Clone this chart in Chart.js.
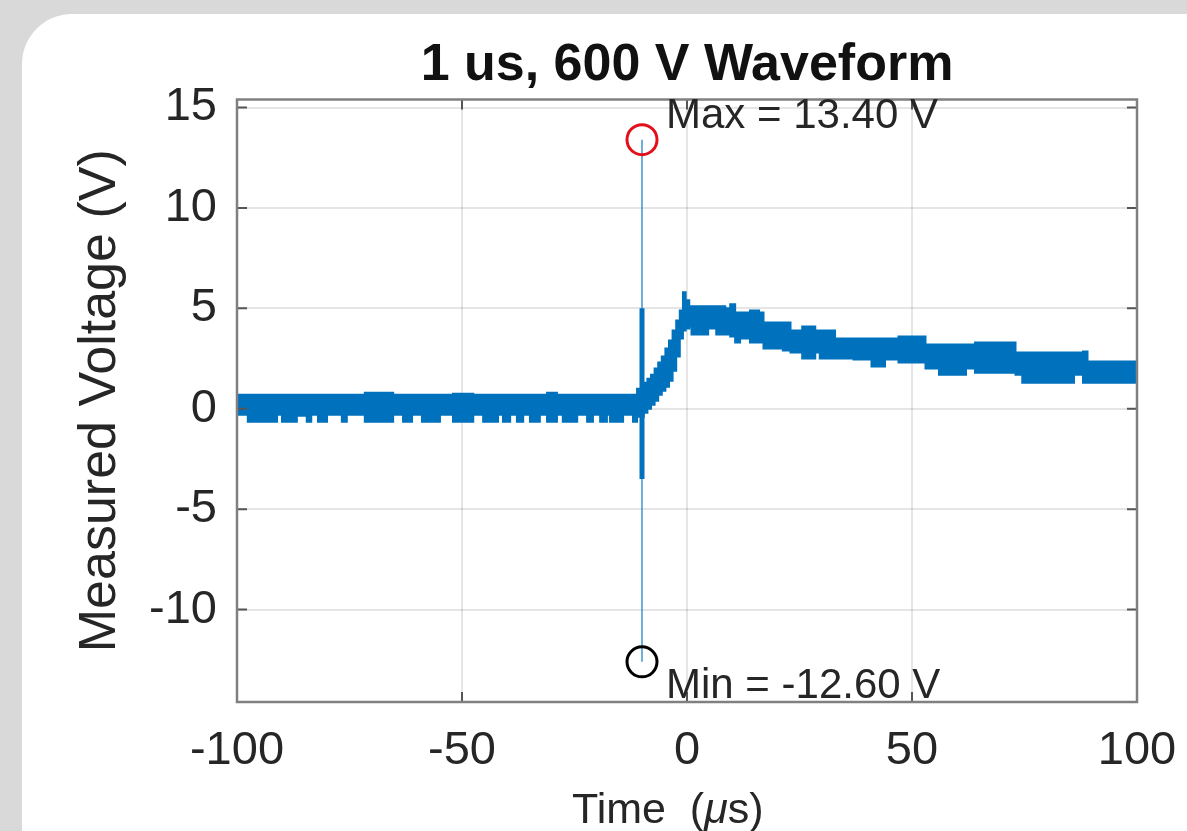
<!DOCTYPE html>
<html>
<head>
<meta charset="utf-8">
<script src="https://cdn.jsdelivr.net/npm/chart.js@4.4.1/dist/chart.umd.min.js"></script>
<style>
  html, body { margin: 0; padding: 0; background: #d9d9d9; overflow: hidden; }
  #card { position: absolute; left: 22px; top: 14px; width: 1230px; height: 900px; background: #fff; border-radius: 50px; }
  #wrap { position: absolute; left: 0; top: 0; width: 1187px; height: 831px; }
</style>
</head>
<body>
<div id="card"></div>
<div id="wrap"><canvas id="waveChart" width="1187" height="831"></canvas></div>
<script>
// waveform band (time in us, volts)
// each value holds from its time until the next one
const envTime = [-100, -97.6, -91.1, -90.0, -86.7, -84.5, -83.5, -82.0, -80.0, -76.7, -75.6, -71.6,
  -65.3, -63.1, -61.1, -58.9, -54.9, -52.0, -47.5, -45.3, -42.0, -40.9, -39.3, -37.8, -36.4, -34.9,
  -32.7, -31.1, -28.9, -27.6, -24.4, -22.2, -20.9, -19.3, -17.8, -17.1, -14.2, -12.0, -11.1,
  -9.6, -8.8, -8.0, -7.2, -6.4, -5.6, -4.8, -4.0, -3.2, -2.4, -1.6, -0.9, -0.3, 0.5, 1.0,
  4.7, 6.5, 8.5, 9.6, 10.7, 11.8, 14.0, 16.0, 17.0, 21.3, 23.0, 25.6, 28.5, 29.5, 32.9, 37.0,
  41.0, 44.0, 47.0, 53.0, 56.0, 62.0, 64.0, 73.0, 74.5, 86.0, 88.0, 89.0, 96.0, 100.0];
const envHigh = [0.7, 0.7, 0.7, 0.7, 0.7, 0.7, 0.7, 0.7, 0.7, 0.7, 0.7, 0.7,
  0.8, 0.7, 0.7, 0.7, 0.7, 0.7, 0.75, 0.7, 0.7, 0.7, 0.7, 0.7, 0.7, 0.7,
  0.7, 0.7, 0.8, 0.7, 0.7, 0.7, 0.7, 0.7, 0.7, 0.7, 0.7, 0.7, 0.7,
  1.0, 1.3, 1.5, 1.7, 2.0, 2.3, 2.6, 3.0, 3.4, 3.9, 4.4, 4.9, 5.8, 5.4, 5.1,
  5.1, 5.1, 5.1, 5.0, 5.2, 4.8, 4.8, 4.9, 4.8, 4.3, 4.3, 3.9, 4.1, 3.9, 3.9, 3.5,
  3.5, 3.5, 3.5, 3.6, 3.2, 3.2, 3.2, 3.3, 2.8, 2.8, 2.8, 2.85, 2.35, 2.35];
const envLow = [-0.65, -0.3, -0.65, -0.3, -0.65, -0.35, -0.65, -0.3, -0.65, -0.3, -0.65, -0.3,
  -0.65, -0.3, -0.65, -0.3, -0.65, -0.3, -0.65, -0.3, -0.65, -0.3, -0.65, -0.3, -0.65, -0.3,
  -0.65, -0.3, -0.65, -0.3, -0.65, -0.3, -0.65, -0.3, -0.65, -0.3, -0.65, -0.3, -0.65,
  -0.4, -0.2, 0.0, 0.2, 0.4, 0.7, 0.9, 1.1, 1.4, 1.9, 2.6, 3.5, 3.9, 4.0, 4.1,
  3.7, 4.0, 3.7, 3.7, 3.6, 3.3, 3.5, 3.3, 3.3, 3.0, 2.9, 2.8, 2.5, 2.8, 2.5, 2.5,
  2.45, 2.1, 2.45, 2.3, 2.0, 1.7, 2.0, 1.8, 1.7, 1.3, 1.7, 1.3, 1.3, 1.3];

// switching spike: dense core plus the single-sample extremes
const peakTime = -10.0;
const coreHigh = 5.0;
const coreLow = -3.5;
const maxVolt = 13.4;
const minVolt = -12.6;

const xTicks = [-100, -50, 0, 50, 100];
const yTicks = [-10, -5, 0, 5, 10, 15];

const traceBlue = '#0072BD';
const textColor = '#262626';
const fontName = '"Liberation Sans", Arial, Helvetica, sans-serif';

const toPoints = (xs, ys) => xs.map((x, i) => ({ x: x, y: ys[i] }));

// title, x label, box, inward ticks and the max/min labels, MATLAB style
const boxPlugin = {
    id: 'matlabBox',
    afterDatasetsDraw(chart) {
        const { ctx, chartArea: a, scales } = chart;
        const x = scales.x, y = scales.y;
        ctx.save();
        ctx.strokeStyle = '#555';
        ctx.lineWidth = 2;
        ctx.beginPath();
        xTicks.forEach(v => {
            const px = x.getPixelForValue(v);
            ctx.moveTo(px, a.bottom); ctx.lineTo(px, a.bottom - 10);
            ctx.moveTo(px, a.top); ctx.lineTo(px, a.top + 10);
        });
        yTicks.forEach(v => {
            const py = y.getPixelForValue(v);
            ctx.moveTo(a.left, py); ctx.lineTo(a.left + 10, py);
            ctx.moveTo(a.right, py); ctx.lineTo(a.right - 10, py);
        });
        ctx.stroke();
        ctx.strokeStyle = '#808080';
        ctx.lineWidth = 2.5;
        ctx.strokeRect(a.left, a.top, a.right - a.left, a.bottom - a.top);

        ctx.fillStyle = textColor;
        ctx.font = '42px ' + fontName;
        ctx.textAlign = 'left';
        ctx.textBaseline = 'alphabetic';
        const tx = x.getPixelForValue(peakTime) + 24;
        ctx.fillText('Max = ' + maxVolt.toFixed(2) + ' V', tx, y.getPixelForValue(maxVolt) - 12);
        ctx.fillText('Min = ' + minVolt.toFixed(2) + ' V', tx, y.getPixelForValue(minVolt) + 36);

        // x label with TeX-style italic mu
        const parts = [['Time  (', ''], ['\u03bc', 'italic '], ['s)', '']];
        let lx = (a.left + a.right) / 2 - 115;
        parts.forEach(([txt, style]) => {
            ctx.font = style + '43px ' + fontName;
            ctx.fillText(txt, lx, 823);
            lx += ctx.measureText(txt).width;
        });

        ctx.fillStyle = '#111';
        ctx.font = 'bold 52px ' + fontName;
        ctx.textAlign = 'center';
        ctx.fillText('1 us, 600 V Waveform', (a.left + a.right) / 2, a.top - 20);
        ctx.restore();
    }
};

const waveCtx = document.getElementById('waveChart');

if (waveCtx) {
    new Chart(waveCtx, {
        type: 'line',
        data: {
            datasets: [{
                label: 'Max',
                data: [{ x: peakTime, y: maxVolt }],
                showLine: false,
                pointRadius: 15,
                pointBorderWidth: 3,
                pointBorderColor: '#e3101c',
                pointBackgroundColor: 'rgba(0,0,0,0)'
            }, {
                label: 'Min',
                data: [{ x: peakTime, y: minVolt }],
                showLine: false,
                pointRadius: 15,
                pointBorderWidth: 3,
                pointBorderColor: '#000000',
                pointBackgroundColor: 'rgba(0,0,0,0)'
            }, {
                label: 'Spike',
                data: [{ x: peakTime, y: maxVolt }, { x: peakTime, y: minVolt }],
                borderColor: 'rgba(0,114,189,0.75)',
                borderWidth: 1.5,
                pointRadius: 0,
                fill: false
            }, {
                label: 'Spike core',
                data: [{ x: peakTime, y: coreHigh }, { x: peakTime, y: coreLow }],
                borderColor: traceBlue,
                borderWidth: 5,
                pointRadius: 0,
                fill: false
            }, {
                label: 'Upper',
                data: toPoints(envTime, envHigh),
                stepped: 'after',
                borderColor: traceBlue,
                borderWidth: 2,
                pointRadius: 0,
                fill: false
            }, {
                label: 'Lower',
                data: toPoints(envTime, envLow),
                stepped: 'after',
                borderColor: traceBlue,
                backgroundColor: traceBlue,
                borderWidth: 2,
                pointRadius: 0,
                fill: '-1'
            }]
        },
        options: {
            responsive: false,
            animation: false,
            layout: { padding: { left: 0, right: 50, top: 99.5, bottom: 0 } },
            plugins: {
                legend: { display: false },
                tooltip: { enabled: false },
                title: { display: false }
            },
            scales: {
                x: {
                    type: 'linear',
                    min: -100,
                    max: 100,
                    afterBuildTicks: s => { s.ticks = xTicks.map(v => ({ value: v })); },
                    afterFit: s => { s.height = 129; s.paddingLeft = 0; s.paddingRight = 0; },
                    grid: { color: 'rgba(0,0,0,0.1)', lineWidth: 2, drawTicks: false },
                    border: { display: false },
                    ticks: { color: textColor, padding: 21, maxRotation: 0, font: { family: fontName, size: 47 } },
                    title: { display: false }
                },
                y: {
                    type: 'linear',
                    min: -14.6,
                    max: 15.4,
                    afterBuildTicks: s => { s.ticks = yTicks.map(v => ({ value: v })); },
                    afterFit: s => { s.width = 237; },
                    grid: { color: 'rgba(0,0,0,0.1)', lineWidth: 2, drawTicks: false },
                    border: { display: false },
                    ticks: { color: textColor, padding: 20, font: { family: fontName, size: 47 } },
                    title: {
                        display: true,
                        text: 'Measured Voltage (V)',
                        color: textColor,
                        font: { family: fontName, size: 52, lineHeight: 1 },
                        padding: { top: 75, bottom: 0 }
                    }
                }
            }
        },
        plugins: [boxPlugin]
    });
}
</script>
</body>
</html>
